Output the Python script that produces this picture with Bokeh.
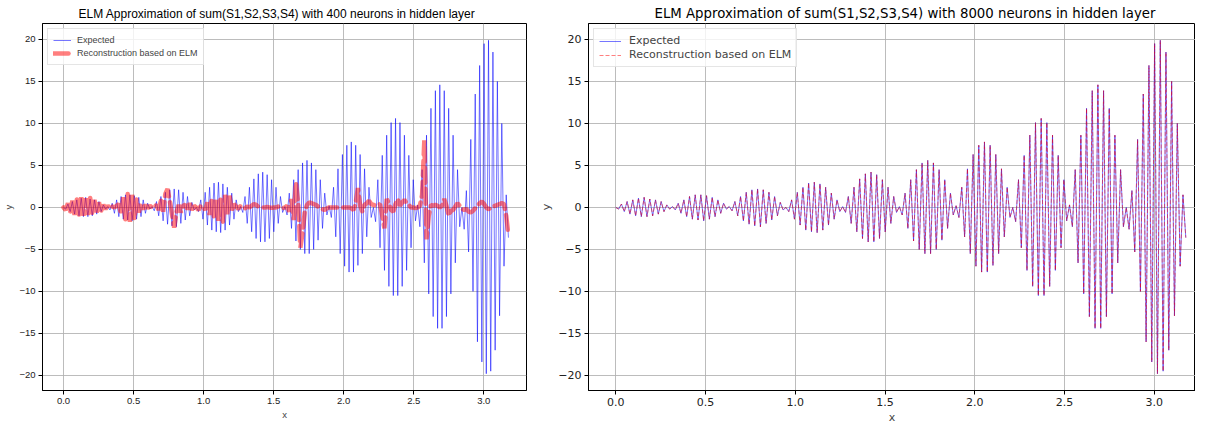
import numpy as np
from bokeh.plotting import figure
from bokeh.layouts import row
from bokeh.models import FixedTicker, Legend, LegendItem, Range1d
from bokeh.embed import file_html
from bokeh.resources import INLINE

# ---------------- data ----------------
x_start, x_end = 0.0, 3.176

expected = [
    0.0, -0.2, 0.4, -0.5, 0.7, -0.8, 0.9, -1.0, 1.1, -1.1, 1.2, -1.1, 1.0, -1.0, 0.9, -0.8, 0.7, -0.5, 0.3, -0.2,
    0.1, -0.3, 0.5, -0.7, 0.9, -1.1, 1.3, -1.4, 1.5, -1.5, 1.5, -1.6, 1.4, -1.4, 1.2, -1.1, 0.9, -0.7, 0.5, -0.2,
    0.1, -0.4, 0.7, -1.0, 1.3, -1.6, 1.8, -2.0, 2.1, -2.2, 2.2, -2.3, 2.1, -1.9, 1.8, -1.5, 1.3, -1.0, 0.6, -0.3,
    0.0, -0.5, 0.9, -1.4, 1.8, -2.1, 2.4, -2.7, 2.9, -2.9, 3.0, -3.0, 2.8, -2.7, 2.4, -2.1, 1.7, -1.4, 0.9, -0.5,
    0.1, -0.6, 1.3, -1.9, 2.4, -2.9, 3.4, -3.7, 4.0, -4.1, 4.2, -4.1, 3.9, -3.7, 3.3, -2.9, 2.4, -1.9, 1.3, -0.6,
    0.1, -0.9, 1.7, -2.5, 3.3, -4.0, 4.5, -5.0, 5.3, -5.5, 5.6, -5.5, 5.3, -5.0, 4.5, -3.9, 3.3, -2.5, 1.7, -0.9,
    0.2, -1.2, 2.4, -3.5, 4.6, -5.5, 6.3, -7.0, 7.4, -7.7, 7.8, -7.7, 7.4, -6.9, 6.3, -5.5, 4.6, -3.5, 2.4, -1.2,
    0.0, -1.7, 3.3, -4.8, 6.2, -7.5, 8.6, -9.4, 10.1, -10.5, 10.6, -10.5, 10.1, -9.4, 8.6, -7.5, 6.2, -4.8, 3.3, -1.6,
    0.3, -2.3, 4.5, -6.6, 8.6, -10.3, 11.8, -13.0, 13.9, -14.4, 14.6, -14.4, 13.9, -13.0, 11.8, -10.3, 8.6, -6.6, 4.5, -2.3,
    0.0, -2.6, 2.0, -5.3, 8.1, -10.0, 13.5, -16.0, 16.9, -18.4, 19.5, -19.8, 19.9, -19.5, 18.5, -17.0, 15.0, -12.9, 10.0, -7.0,
    1.5, -3.6,
]

recon_400 = [
    0.0, -0.3, 0.5, -0.6, 0.8, -0.9, 1.0, -0.9, 1.2, -1.0,
    1.1, -0.9, 1.2, -0.8, 0.9, -0.6, 0.6, -0.4, 0.3, -0.2,
    0.2, -0.1, 0.1, 0.0, 0.2, 0.4, -0.8, 1.2, -1.5, 1.6,
    -1.7, 1.5, -1.4, 1.0, -0.6, 0.4, -0.2, 0.3, -0.1, 0.2,
    0.0, 0.3, 0.2, -0.3, 0.8, -0.5, 1.6, 2.2, 0.8, -0.8,
    -2.4, -0.6, 0.3, -0.6, 0.2, 0.3, -0.2, 0.5, -0.3, 0.2,
    0.0, -0.3, 0.2, 0.1, -0.3, 0.6, -0.9, 1.1, -1.3, 0.9,
    -1.6, 1.2, -1.7, 1.5, -0.8, 1.4, -0.5, 0.4, 0.1, -0.2,
    0.2, 0.0, -0.1, 0.1, 0.0, 0.2, 0.4, 0.3, 0.1, 0.0,
    0.0, 0.0, 0.05, 0.0, -0.05, 0.0, 0.0, 0.1, 0.0, -0.1,
    0.0, 0.2, -0.5, 1.0, -1.5, 3.0, 0.5, -4.8, -3.0, -0.5,
    0.3, 0.6, 0.5, 0.4, 0.3, 0.1, 0.0, -0.2, -0.3, -0.1,
    0.0, 0.0, 0.0, 0.0, 0.0, 0.0, 0.0, 0.0, 0.0, 0.0,
    -0.1, -0.3, 0.5, 2.3, 0.2, -0.5, 0.3, 0.5, 0.8, 0.4,
    0.3, 0.2, 0.3, 0.4, -1.0, -2.5, 1.0, 0.5, -0.3, -0.5,
    0.4, 1.0, 0.2, 0.6, 0.9, 0.5, 0.3, 0.0, 0.0, -0.1,
    0.0, 0.2, 1.5, 8.0, -3.8, -1.0, 0.3, 0.2, 0.3, 0.2,
    0.0, 0.2, 1.0, 0.2, -1.0, -0.4, -0.3, 0.1, 0.5, 0.2,
    -0.2, -0.3, -0.2, -0.5, -0.6, -0.4, -0.1, 0.2, 0.5, 0.7,
    0.4, 0.0, -0.2, -0.1, 0.1, 0.2, 0.3, 0.4, 0.5, 0.4,
    -1.0, -3.3,
]

recon_8000 = list(expected)

x_ticks = [0.0, 0.5, 1.0, 1.5, 2.0, 2.5, 3.0]
y_ticks = [-20, -15, -10, -5, 0, 5, 10, 15, 20]
titles = [
    "ELM Approximation of sum(S1,S2,S3,S4) with 400 neurons in hidden layer",
    "ELM Approximation of sum(S1,S2,S3,S4) with 8000 neurons in hidden layer",
]
labels = ["Expected", "Reconstruction based on ELM"]

x = np.linspace(x_start, x_end, len(expected))


def make_fig(title, width, bl, br, xr, recon, red_style, font, tsize, lsize, gsize, toff, gw, gstand):
    p = figure(width=width, height=426, output_backend="svg", toolbar_location=None,
               x_range=Range1d(*xr), y_range=Range1d(-21.8, 21.9),
               min_border_left=bl, min_border_right=br, min_border_top=0, min_border_bottom=0)
    p.title.text = title
    p.title.align = "left"
    p.title.offset = toff
    p.title.text_font = font
    p.title.text_font_size = tsize
    p.title.text_font_style = "normal"
    p.title.text_color = "#000000"
    p.title.standoff = 6

    r1 = p.line(x, expected, line_color="blue", line_alpha=0.6, line_width=0.9)
    r2 = p.line(x, recon, **red_style)

    for ax in (p.xaxis, p.yaxis):
        ax.axis_line_color = "black"
        ax.major_tick_line_color = "black"
        ax.major_tick_out = 4
        ax.major_tick_in = 0
        ax.minor_tick_line_color = None
        ax.major_label_text_font = font
        ax.major_label_text_font_size = lsize
        ax.major_label_text_color = "#222222"
        ax.major_label_text_line_height = 1.0
        ax.axis_label_text_font = font
        ax.axis_label_text_font_size = lsize
        ax.axis_label_text_font_style = "normal"
        ax.axis_label_text_line_height = 1.0
        ax.major_label_standoff = 3
        ax.axis_label_standoff = 2
    p.xaxis.ticker = FixedTicker(ticks=x_ticks)
    p.xaxis.major_label_overrides = {t: f"{t:.1f}" for t in x_ticks}
    p.yaxis.ticker = FixedTicker(ticks=y_ticks)
    p.yaxis.major_label_overrides = {t: (f"\u2212{abs(t)}" if t < 0 else str(t)) for t in y_ticks}
    p.xaxis.axis_label = "x"
    p.yaxis.axis_label = "y"

    p.outline_line_color = "black"
    p.outline_line_alpha = 1
    p.grid.grid_line_color = "#b0b0b0"
    p.grid.grid_line_alpha = 0.85
    p.grid.grid_line_width = 1

    legend = Legend(items=[LegendItem(label=labels[0], renderers=[r1]),
                           LegendItem(label=labels[1], renderers=[r2])],
                    location="top_left")
    legend.label_text_font = font
    legend.label_text_font_size = gsize
    legend.border_line_color = "#cccccc"
    legend.background_fill_alpha = 0.8
    legend.margin = 5
    legend.padding = 5
    legend.spacing = 1
    legend.glyph_width = gw
    legend.glyph_height = 12
    legend.label_height = 12
    legend.label_standoff = gstand
    p.add_layout(legend)
    return p


p1 = make_fig(titles[0], 535, 35, 9, (-0.15, 3.305), recon_400,
              dict(line_color="red", line_alpha=0.5, line_width=4.5, line_dash="15 6", line_cap="round"),
              "Liberation Sans", "12px", "9.5px", "9px", 36, 18, 6)
p2 = make_fig(titles[1], 660, 53, 0, (-0.152, 3.23), recon_8000,
              dict(line_color="red", line_alpha=0.5, line_width=1.0, line_dash="4 2"),
              "DejaVu Sans", "13.3px", "11px", "11px", 66, 22, 8)

layout = row(p1, p2)
open("out.html", "w").write(file_html(layout, INLINE))
